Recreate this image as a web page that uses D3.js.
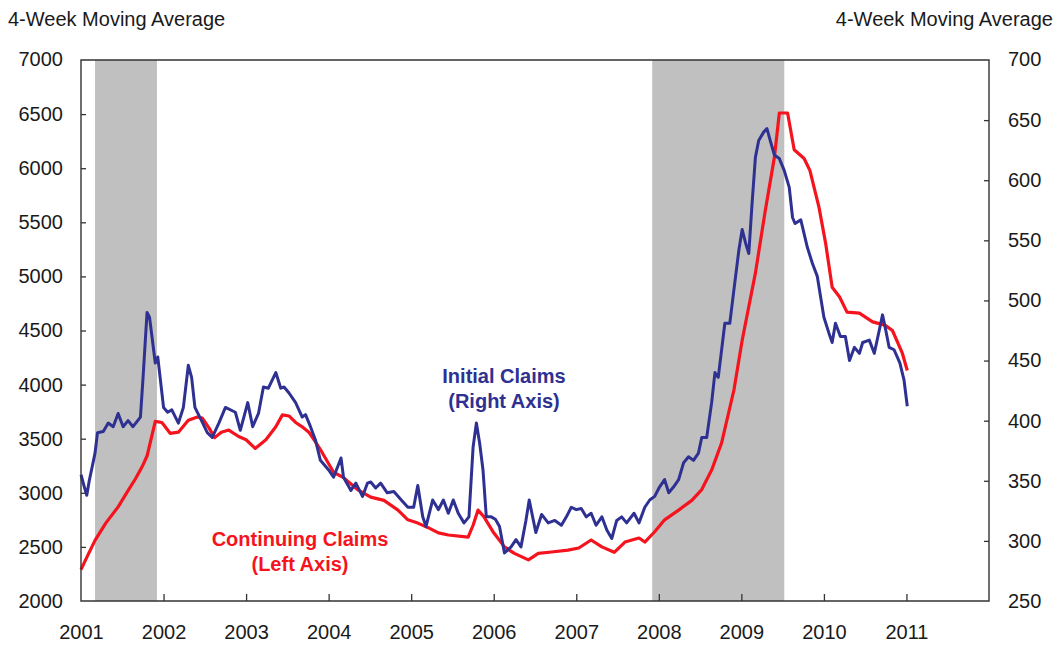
<!DOCTYPE html>
<html>
<head>
<meta charset="utf-8">
<script src="https://cdn.jsdelivr.net/npm/d3@7"></script>
<style>
  html, body { margin: 0; padding: 0; background: #fff; }
  svg { display: block; font-family: Arial, "Liberation Sans", sans-serif; }
</style>
</head>
<body>
<svg id="chart" width="1060" height="648"></svg>
<script>
// ---- Data ----
const yearTicks = [2001, 2002, 2003, 2004, 2005, 2006, 2007, 2008, 2009, 2010, 2011];
const leftTicks = [2000, 2500, 3000, 3500, 4000, 4500, 5000, 5500, 6000, 6500, 7000];
const rightTicks = [250, 300, 350, 400, 450, 500, 550, 600, 650, 700];
const recessionStarts = [2001.17, 2007.92];
const recessionEnds = [2001.92, 2009.52];

// Continuing claims (thousands, left axis), decimal-year dates
const contDates = [2001.00,2001.08,2001.17,2001.30,2001.45,2001.57,2001.66,2001.74,2001.80,2001.90,2001.98,2002.08,2002.18,2002.30,2002.41,2002.47,2002.55,2002.62,2002.70,2002.79,2002.91,2003.00,2003.11,2003.24,2003.36,2003.44,2003.52,2003.60,2003.68,2003.76,2003.84,2003.90,2004.06,2004.18,2004.35,2004.51,2004.67,2004.84,2004.96,2005.08,2005.20,2005.33,2005.45,2005.69,2005.75,2005.81,2005.88,2006.00,2006.13,2006.25,2006.42,2006.54,2006.70,2006.90,2007.03,2007.18,2007.31,2007.46,2007.59,2007.76,2007.83,2007.95,2008.07,2008.24,2008.40,2008.52,2008.64,2008.76,2008.91,2009.01,2009.17,2009.29,2009.40,2009.46,2009.56,2009.64,2009.76,2009.83,2009.94,2010.02,2010.10,2010.19,2010.28,2010.43,2010.59,2010.74,2010.83,2010.95,2011.01];
const contValues = [2290,2420,2560,2720,2870,3020,3130,3240,3340,3660,3650,3550,3560,3670,3700,3690,3600,3510,3560,3580,3520,3490,3410,3490,3610,3720,3710,3650,3610,3560,3470,3400,3190,3140,3030,2960,2930,2840,2750,2720,2680,2630,2610,2590,2700,2840,2780,2630,2500,2440,2380,2440,2453,2470,2490,2564,2500,2450,2545,2582,2545,2640,2750,2840,2930,3030,3210,3460,3950,4410,5030,5610,6100,6510,6510,6170,6090,5980,5640,5310,4900,4810,4670,4660,4580,4550,4500,4290,4130];

// Initial claims (thousands, right axis)
const initDates = [2001.00,2001.04,2001.07,2001.10,2001.17,2001.20,2001.27,2001.33,2001.39,2001.45,2001.51,2001.57,2001.63,2001.72,2001.75,2001.80,2001.83,2001.90,2001.93,2002.00,2002.05,2002.10,2002.18,2002.24,2002.30,2002.34,2002.38,2002.46,2002.53,2002.59,2002.67,2002.75,2002.87,2002.93,2003.02,2003.08,2003.15,2003.21,2003.27,2003.36,2003.42,2003.46,2003.52,2003.60,2003.68,2003.72,2003.78,2003.84,2003.90,2004.00,2004.06,2004.15,2004.18,2004.27,2004.33,2004.41,2004.47,2004.51,2004.57,2004.63,2004.71,2004.79,2004.88,2004.96,2005.03,2005.08,2005.14,2005.18,2005.26,2005.33,2005.39,2005.45,2005.51,2005.57,2005.64,2005.70,2005.75,2005.79,2005.83,2005.87,2005.91,2005.97,2006.02,2006.07,2006.13,2006.21,2006.27,2006.33,2006.39,2006.43,2006.51,2006.58,2006.66,2006.74,2006.82,2006.88,2006.94,2007.00,2007.06,2007.12,2007.18,2007.24,2007.31,2007.37,2007.43,2007.49,2007.55,2007.61,2007.70,2007.76,2007.83,2007.89,2007.95,2008.01,2008.07,2008.12,2008.18,2008.24,2008.30,2008.36,2008.42,2008.48,2008.52,2008.58,2008.64,2008.68,2008.72,2008.80,2008.86,2008.91,2008.97,2009.01,2009.05,2009.09,2009.13,2009.17,2009.21,2009.27,2009.31,2009.35,2009.40,2009.46,2009.52,2009.58,2009.62,2009.65,2009.72,2009.80,2009.86,2009.92,2010.00,2010.06,2010.10,2010.14,2010.20,2010.26,2010.31,2010.37,2010.43,2010.47,2010.55,2010.61,2010.67,2010.71,2010.75,2010.79,2010.85,2010.92,2010.97,2011.01];
const initValues = [355,345,338,350,373,390,391,398,395,406,395,400,395,403,434,490,486,448,453,411,407,409,398,411,446,436,411,400,390,386,398,411,407,392,415,395,406,428,427,440,427,428,423,415,403,405,395,384,367,359,353,369,353,342,348,337,348,349,344,348,340,341,334,328,328,346,320,312,334,326,334,323,334,323,315,320,378,398,381,359,320,320,318,312,290,295,301,295,317,334,307,322,315,317,313,320,328,326,327,320,323,313,320,309,302,317,320,315,323,315,328,334,337,345,351,340,345,351,365,370,367,373,386,386,415,440,436,481,481,509,542,559,548,539,581,619,633,640,643,633,621,618,608,594,569,564,567,544,531,520,486,473,465,481,470,470,450,461,456,465,467,456,475,488,475,461,459,448,434,412];

// ---- Layout ----
const svg = d3.select("#chart");
const plot = { left: 81, right: 989, top: 60, bottom: 601 };
const textColor = "#1a1a1a";
const blue = "#2e3192";
const red = "#f5141e";

const x = d3.scaleLinear().domain([2001, 2012]).range([plot.left, plot.right]);
const yL = d3.scaleLinear().domain([2000, 7000]).range([plot.bottom, plot.top]);
const yR = d3.scaleLinear().domain([250, 700]).range([plot.bottom, plot.top]);

// Recession shading
svg.append("g").selectAll("rect")
  .data(recessionStarts.map((s, i) => [s, recessionEnds[i]]))
  .join("rect")
  .attr("x", d => x(d[0]))
  .attr("y", plot.top)
  .attr("width", d => x(d[1]) - x(d[0]))
  .attr("height", plot.bottom - plot.top)
  .attr("fill", "#c0c0c0");

// Axes
const axisStyle = g => {
  g.select(".domain").remove();
  g.selectAll(".tick line").attr("stroke", "#333").attr("stroke-width", 1.3);
  g.selectAll(".tick text").attr("fill", textColor).attr("font-size", 20)
    .attr("font-family", "Arial, 'Liberation Sans', sans-serif");
};

svg.append("g")
  .attr("transform", `translate(${plot.left},0)`)
  .call(d3.axisRight(yL).tickValues(leftTicks.slice(0, -1)).tickSize(5).tickFormat(d3.format("d")))
  .call(axisStyle)
  .call(g => g.selectAll(".tick text").attr("x", -18).attr("text-anchor", "end"))
  .call(g => g.selectAll(".tick").filter(d => d === 2000).select("line").remove());
// top label 7000 (no tick)
svg.append("text").attr("x", plot.left - 18).attr("y", yL(7000)).attr("dy", "0.32em")
  .attr("text-anchor", "end").attr("font-size", 20).attr("fill", textColor).text(d3.format("d")(leftTicks[leftTicks.length - 1]));

svg.append("g")
  .attr("transform", `translate(${plot.right},0)`)
  .call(d3.axisLeft(yR).tickValues(rightTicks.slice(0, -1)).tickSize(5).tickFormat(d3.format("d")))
  .call(axisStyle)
  .call(g => g.selectAll(".tick text").attr("x", 19).attr("text-anchor", "start"))
  .call(g => g.selectAll(".tick").filter(d => d === 250).select("line").remove());
svg.append("text").attr("x", plot.right + 19).attr("y", yR(700)).attr("dy", "0.32em")
  .attr("text-anchor", "start").attr("font-size", 20).attr("fill", textColor).text(rightTicks[rightTicks.length - 1]);

svg.append("g")
  .attr("transform", `translate(0,${plot.bottom})`)
  .call(d3.axisTop(x).tickValues(yearTicks).tickSize(7).tickFormat(d3.format("d")))
  .call(axisStyle)
  .call(g => g.selectAll(".tick text").attr("y", 24).attr("dy", "0.71em"))
  .call(g => g.selectAll(".tick").filter(d => d === 2001).select("line").remove());

// Axis titles
svg.append("text").attr("x", 8).attr("y", 26).attr("font-size", 20).attr("fill", textColor)
  .text("4-Week Moving Average");
svg.append("text").attr("x", 1053).attr("y", 26).attr("font-size", 20).attr("fill", textColor)
  .attr("text-anchor", "end").text("4-Week Moving Average");

// Lines
const contData = contDates.map((d, i) => [d, contValues[i]]);
const initData = initDates.map((d, i) => [d, initValues[i]]);

svg.append("path").datum(contData)
  .attr("fill", "none").attr("stroke", red).attr("stroke-width", 3.2).attr("stroke-linejoin", "round")
  .attr("d", d3.line().x(d => x(d[0])).y(d => yL(d[1])));

svg.append("path").datum(initData)
  .attr("fill", "none").attr("stroke", blue).attr("stroke-width", 3).attr("stroke-linejoin", "round")
  .attr("d", d3.line().x(d => x(d[0])).y(d => yR(d[1])));

// Frame
svg.append("path")
  .attr("d", `M${plot.left},${plot.top}H${plot.right}V${plot.bottom}H${plot.left}Z`)
  .attr("fill", "none").attr("stroke", "#333").attr("stroke-width", 1.4);

// Annotations
const ann = svg.append("g").attr("font-size", 20).attr("font-weight", "bold").attr("text-anchor", "middle");
ann.append("text").attr("x", 504).attr("y", 383).attr("fill", blue).text("Initial Claims");
ann.append("text").attr("x", 504).attr("y", 408).attr("fill", blue).text("(Right Axis)");
ann.append("text").attr("x", 300).attr("y", 546).attr("fill", red).text("Continuing Claims");
ann.append("text").attr("x", 300).attr("y", 571).attr("fill", red).text("(Left Axis)");
</script>
</body>
</html>
